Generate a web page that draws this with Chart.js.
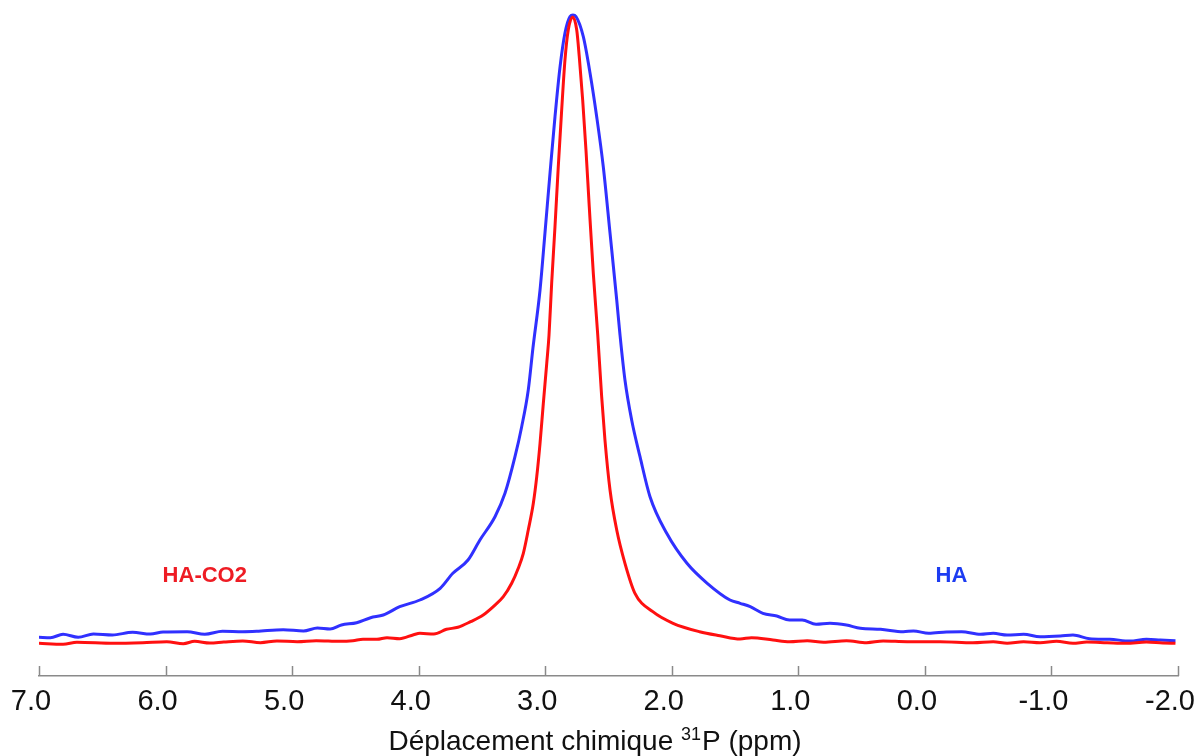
<!DOCTYPE html>
<html>
<head>
<meta charset="utf-8">
<script src="https://cdn.jsdelivr.net/npm/chart.js@4.4.1/dist/chart.umd.min.js"></script>
<style>
    body { margin: 0; background: #fff; }
    #wrap { width: 1199px; height: 756px; }
</style>
</head>
<body>
<div id="wrap"><canvas id="nmrChart"></canvas></div>
<script>
// HA spectrum (ppm, intensity a.u.)
const haPpm = [7.00, 6.91, 6.81, 6.69, 6.57, 6.42, 6.26, 6.12, 6.02, 5.83, 5.69, 5.55, 5.39, 5.28, 5.07, 4.91, 4.80, 4.70, 4.61, 4.49,
    4.38, 4.28, 4.15, 3.99, 3.83, 3.73, 3.61, 3.516, 3.397, 3.318, 3.239, 3.186, 3.134, 3.097, 3.041, 3.002, 2.962, 2.923, 2.883, 2.844,
    2.804, 2.781, 2.757, 2.699, 2.646, 2.593, 2.541, 2.488, 2.435, 2.409, 2.370, 2.317, 2.251, 2.172, 2.04, 1.88, 1.72, 1.54, 1.46, 1.38,
    1.28, 1.17, 1.07, 0.97, 0.86, 0.75, 0.62, 0.51, 0.35, 0.17, 0.09, -0.03, -0.17, -0.29, -0.44, -0.54, -0.65, -0.78, -0.91, -1.07,
    -1.17, -1.30, -1.46, -1.62, -1.75, -1.86, -1.98];
const haIntensity = [7.7, 7.3, 10.7, 7.7, 11, 10, 12.7, 11, 13, 13.3, 10.7, 13.7, 13.3, 13.7, 15.3, 14, 17, 16, 20, 22.3,
    27.3, 30, 38.3, 45, 56.7, 71.7, 85, 105, 128.3, 151.7, 188.3, 218.3, 255, 297, 355, 412, 472, 528, 578, 612,
    628.5, 630, 628.5, 608.3, 572, 528, 478, 412, 345, 310, 265, 225, 188.3, 148.3, 111.7, 81.7, 61.7, 45, 41.7, 38.3,
    31.7, 29, 25, 25, 20.7, 21.7, 20, 16.7, 15.7, 13.3, 14, 11.7, 13, 13.3, 10.7, 11.7, 10, 10.7, 8.3, 9,
    10, 6.3, 5.7, 4, 5.7, 5, 4.3];

// HA-CO2 spectrum
const hacoPpm = [7.00, 6.81, 6.70, 6.41, 6.18, 5.99, 5.86, 5.77, 5.65, 5.54, 5.39, 5.25, 5.12, 4.96, 4.81, 4.62, 4.52, 4.44, 4.33, 4.25,
    4.15, 4.04, 3.99, 3.88, 3.78, 3.69, 3.59, 3.49, 3.410, 3.331, 3.265, 3.213, 3.173, 3.134, 3.094, 3.067, 3.041, 3.015, 2.988, 2.970,
    2.949, 2.923, 2.897, 2.870, 2.844, 2.818, 2.783, 2.751, 2.731, 2.704, 2.678, 2.652, 2.620, 2.585, 2.554, 2.528, 2.488, 2.435, 2.370, 2.291,
    2.15, 1.99, 1.78, 1.62, 1.46, 1.37, 1.20, 1.07, 0.93, 0.80, 0.62, 0.46, 0.33, 0.14, -0.12, -0.38, -0.54, -0.65, -0.78, -0.91,
    -1.04, -1.17, -1.28, -1.44, -1.59, -1.75, -1.88, -1.98];
const hacoIntensity = [1.7, 0.7, 2.7, 1.7, 2.3, 3.3, 1.3, 3.7, 2, 3, 4, 2.3, 4, 3.3, 4.3, 3.7, 4.3, 5.7, 5.7, 7.3,
    6.3, 10.3, 11.7, 11, 15.7, 17.7, 23.3, 30, 38.3, 48.3, 61.7, 76.7, 91.7, 115, 141.7, 168.3, 201.7, 241.7, 281.7, 310,
    362, 418, 478, 535, 585, 615, 628, 615, 588.3, 545, 495, 438.3, 371.7, 310, 248.3, 205, 155, 115, 81.7, 51.7,
    33.3, 21.7, 13.3, 9.3, 6, 7.3, 5, 3.3, 4.3, 2.7, 4.3, 2.3, 4, 3.3, 3.3, 2.3, 3.3, 1.7, 3.3, 2.3,
    3.7, 1.7, 3, 2.3, 1.7, 3, 2, 1.7];

// Text labels on the plot: [text, ppm, intensity, colour]
const seriesLabels = [
    ['HA-CO2', 5.69, 69, '#ee1c24'],
    ['HA', -0.21, 69, '#1d3cf2']
];

// Axis title pieces: before superscript, superscript, after
const xTitle = ['Déplacement chimique ', '31', 'P (ppm)'];
const FONT = '"Liberation Sans", Arial, Helvetica, sans-serif';

const toPoints = (xs, ys) => xs.map((x, i) => ({ x: x, y: ys[i] }));

// Tick marks pointing up into the plot, series labels and the axis title
const decorPlugin = {
    id: 'decor',
    afterDraw(chart) {
        const { ctx, chartArea } = chart;
        const xs = chart.scales.x;
        const ys = chart.scales.y;
        ctx.save();
        ctx.strokeStyle = '#8a8a8a';
        ctx.lineWidth = 1.5;
        xs.ticks.forEach(t => {
            const px = Math.round(xs.getPixelForValue(t.value)) + 0.5;
            ctx.beginPath();
            ctx.moveTo(px, chartArea.bottom);
            ctx.lineTo(px, chartArea.bottom - 10);
            ctx.stroke();
        });

        ctx.font = 'bold 22px ' + FONT;
        ctx.textAlign = 'center';
        ctx.textBaseline = 'middle';
        seriesLabels.forEach(([txt, ppm, val, col]) => {
            ctx.fillStyle = col;
            ctx.fillText(txt, xs.getPixelForValue(ppm), ys.getPixelForValue(val));
        });

        // title with a real superscript
        const big = '28px ' + FONT, small = '18px ' + FONT;
        ctx.textAlign = 'left';
        ctx.textBaseline = 'alphabetic';
        ctx.fillStyle = '#111';
        ctx.font = big;
        const w1 = ctx.measureText(xTitle[0]).width;
        const w3 = ctx.measureText(xTitle[2]).width;
        ctx.font = small;
        const w2 = ctx.measureText(xTitle[1]).width + 1;
        const baseY = 750;
        let tx = 595 - (w1 + w2 + w3) / 2;
        ctx.font = big;
        ctx.fillText(xTitle[0], tx, baseY);
        tx += w1;
        ctx.font = small;
        ctx.fillText(xTitle[1], tx, baseY - 10);
        tx += w2;
        ctx.font = big;
        ctx.fillText(xTitle[2], tx, baseY);
        ctx.restore();
    }
};

const ctx = document.getElementById('nmrChart').getContext('2d');
const chart = new Chart(ctx, {
    type: 'line',
    data: {
        datasets: [
            {
                label: 'HA-CO2',
                data: toPoints(hacoPpm, hacoIntensity),
                borderColor: '#ff1010',
                borderWidth: 3,
                pointRadius: 0,
                cubicInterpolationMode: 'monotone',
                fill: false
            },
            {
                label: 'HA',
                data: toPoints(haPpm, haIntensity),
                borderColor: '#3030ff',
                borderWidth: 3,
                pointRadius: 0,
                cubicInterpolationMode: 'monotone',
                fill: false
            }
        ]
    },
    options: {
        responsive: true,
        maintainAspectRatio: false,
        animation: false,
        layout: { padding: { left: 39, right: 21, top: 0, bottom: 0 } },
        plugins: {
            legend: { display: false },
            tooltip: { enabled: false }
        },
        scales: {
            x: {
                type: 'linear',
                reverse: true,
                min: -2,
                max: 7,
                grid: { display: false, drawTicks: false },
                border: { display: true, color: '#8a8a8a', width: 1.5 },
                ticks: {
                    stepSize: 1,
                    padding: 9,
                    labelOffset: -8,
                    color: '#111',
                    maxRotation: 0,
                    font: { family: FONT, size: 29 },
                    callback: v => v.toFixed(1)
                },
                afterFit: scale => {
                    scale.height = 80;
                    scale.paddingLeft = 0;
                    scale.paddingRight = 0;
                }
            },
            y: {
                display: false,
                min: -31,
                max: 645
            }
        }
    },
    plugins: [decorPlugin]
});
</script>
</body>
</html>
